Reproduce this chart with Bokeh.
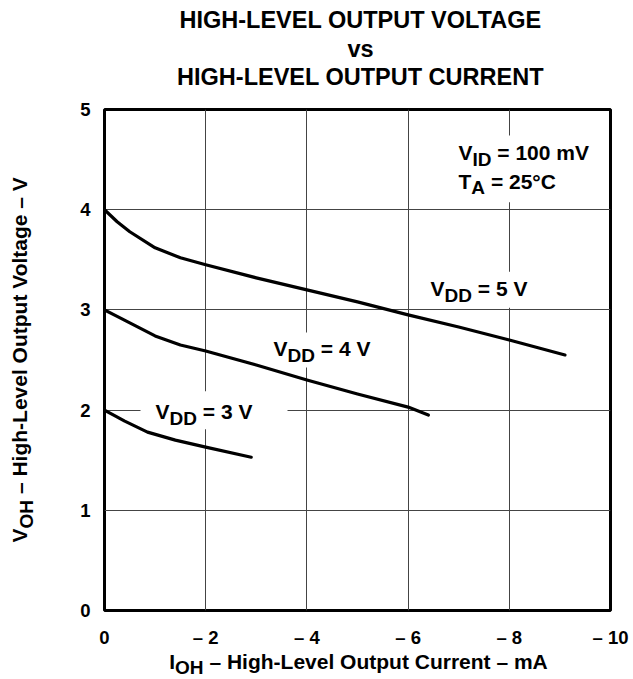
import math
from bokeh.plotting import figure
from bokeh.models import Range1d, FixedTicker, Label
from bokeh.layouts import row, column
from bokeh.core.properties import value
from bokeh.embed import file_html
from bokeh.resources import INLINE

# ---------------- data ----------------
x_ticks = [0, -2, -4, -6, -8, -10]
x_tick_labels = ["0", "– 2", "– 4", "– 6", "– 8", "– 10"]
y_ticks = [0, 1, 2, 3, 4, 5]
y_tick_labels = ["0", "1", "2", "3", "4", "5"]

i_vdd5 = [0, -0.25, -0.5, -1, -1.5, -2, -3, -4, -5, -6, -7, -8, -9.1]
v_vdd5 = [4.0, 3.88, 3.78, 3.62, 3.52, 3.45, 3.32, 3.20, 3.08, 2.95, 2.83, 2.70, 2.55]
i_vdd4 = [0, -0.25, -0.5, -1, -1.5, -2, -3, -4, -5, -6, -6.4]
v_vdd4 = [3.0, 2.935, 2.87, 2.74, 2.65, 2.59, 2.45, 2.30, 2.16, 2.03, 1.95]
i_vdd3 = [0, -0.2, -0.4, -0.85, -1.4, -2, -2.9]
v_vdd3 = [2.0, 1.945, 1.89, 1.78, 1.70, 1.63, 1.53]

title_lines = ["HIGH-LEVEL OUTPUT VOLTAGE", "vs", "HIGH-LEVEL OUTPUT CURRENT"]
x_label = [("I", False), ("OH", True), (" – High-Level Output Current – mA", False)]
y_label = [("V", False), ("OH", True), (" – High-Level Output Voltage – V", False)]

# ---------------- layout (page pixels) ----------------
FONT = "Liberation Sans"
PAGE_W, PAGE_H = 630, 679
LEFT_W = 40          # strip holding the y label
TOP_H = 95           # strip holding the title
BOT_Y = 650          # where the x-label strip starts
FL, FR, FT, FB = 104, 610, 109, 612      # plot frame edges
X0, X1, Y0, Y1 = 0, -10, 0, 5
BL = 0.38            # correction: rendered alphabetic baseline sits this many em lower

def px2x(px):
    return X0 + (px - FL) * (X1 - X0) / (FR - FL)

def px2y(py):
    return Y0 + (FB - py) * (Y1 - Y0) / (FB - FT)

# Arial/Liberation Sans Bold advance widths (per em)
W = {' ': .278, '-': .333, '.': .278, '=': .584, '°': .400, '–': .556,
     'A': .722, 'B': .722, 'C': .722, 'D': .722, 'E': .667, 'F': .611, 'G': .778,
     'H': .722, 'I': .278, 'J': .556, 'K': .722, 'L': .611, 'M': .833, 'N': .722,
     'O': .778, 'P': .667, 'Q': .778, 'R': .722, 'S': .667, 'T': .611, 'U': .722,
     'V': .667, 'W': .944, 'X': .667, 'Y': .667, 'Z': .611,
     'a': .556, 'b': .611, 'c': .556, 'd': .611, 'e': .556, 'f': .333, 'g': .611,
     'h': .611, 'i': .278, 'j': .278, 'k': .556, 'l': .278, 'm': .889, 'n': .611,
     'o': .611, 'p': .611, 'q': .611, 'r': .389, 's': .556, 't': .333, 'u': .611,
     'v': .556, 'w': .778, 'x': .556, 'y': .556, 'z': .500}

def tw(s, size):
    return sum(W.get(c, 0.556) for c in s) * size

def split_parts(parts, size, sub):
    out = []
    off = 0.0
    for t, s in parts:
        fs = sub if s else size
        lead = len(t) - len(t.lstrip(" "))
        off += tw(" " * lead, fs)
        t2 = t.lstrip(" ")
        out.append((t2, fs, s, off))
        off += tw(t2, fs)
    return out, off

def rich_label(p, x, y, parts, size, sub, shift):
    """text with subscripts inside the plot frame (Label annotations)"""
    pieces, _ = split_parts(parts, size, sub)
    for t, fs, s, off in pieces:
        p.add_layout(Label(x=x, y=y, x_offset=off,
                           y_offset=(-shift if s else 0) + BL * fs, text=t,
                           text_font=FONT, text_font_style="bold",
                           text_font_size=f"{fs}px", text_color="black",
                           text_align="left", text_baseline="alphabetic"))

def rich_text(f, x, y, parts, size, sub, shift, vertical=False, center=True):
    """text with subscripts in a helper strip whose data units are page pixels"""
    pieces, total = split_parts(parts, size, sub)
    start = -total / 2 if center else 0.0
    for t, fs, s, off in pieces:
        if vertical:
            xx, yy, ang = x + (shift if s else 0) - BL * fs, y - (start + off), math.pi / 2
        else:
            xx, yy, ang = x + start + off, y + (shift if s else 0) - BL * fs, 0.0
        f.text(x=[xx], y=[yy], text=[t], angle=ang, text_font=value(FONT),
               text_font_style="bold", text_font_size=value(f"{fs}px"),
               text_color="black", text_align="left", text_baseline="alphabetic")

def strip(x0, x1, y0, y1, fx0, fx1):
    """helper figure at page box (x0..x1, y0..y1) whose frame spans page x fx0..fx1"""
    f = figure(width=x1 - x0, height=y1 - y0, output_backend="svg", toolbar_location=None,
               x_range=Range1d(fx0, fx1), y_range=Range1d(y1, y0),
               x_axis_location=None, y_axis_location=None, min_border=0,
               min_border_left=fx0 - x0, min_border_right=x1 - fx1,
               min_border_top=0, min_border_bottom=0)
    f.outline_line_color = None
    f.background_fill_color = "white"
    f.border_fill_color = "white"
    f.xgrid.visible = False
    f.ygrid.visible = False
    return f

# ---------------- main plot ----------------
p = figure(width=PAGE_W - LEFT_W, height=BOT_Y - TOP_H, output_backend="svg",
           toolbar_location=None, x_range=Range1d(X0, X1), y_range=Range1d(Y0, Y1),
           min_border_left=FL - LEFT_W, min_border_right=PAGE_W - FR,
           min_border_top=FT - TOP_H, min_border_bottom=BOT_Y - FB)
p.background_fill_color = "white"
p.border_fill_color = "white"
p.outline_line_color = "black"
p.outline_line_width = 3

p.xaxis.ticker = FixedTicker(ticks=x_ticks)
p.yaxis.ticker = FixedTicker(ticks=y_ticks)
p.xaxis.major_label_overrides = {t: l for t, l in zip(x_ticks, x_tick_labels)}
p.yaxis.major_label_overrides = {t: l for t, l in zip(y_ticks, y_tick_labels)}
for ax in (p.xaxis, p.yaxis):
    ax.axis_line_color = None
    ax.major_tick_line_color = None
    ax.minor_tick_line_color = None
    ax.major_tick_out = 0
    ax.major_tick_in = 0
    ax.minor_tick_out = 0
    ax.minor_tick_in = 0
    ax.major_label_text_font = FONT
    ax.major_label_text_font_style = "bold"
    ax.major_label_text_font_size = "18.5px"
    ax.major_label_text_color = "black"
p.xaxis.major_label_standoff = 16
p.yaxis.major_label_standoff = 14

p.xgrid.ticker = FixedTicker(ticks=x_ticks)
p.ygrid.ticker = FixedTicker(ticks=y_ticks)
p.grid.grid_line_color = "#444444"
p.grid.grid_line_width = 1

# white boxes behind the in-plot labels (grid lines are interrupted there)
boxes = [(140, 287, 392, 430), (262, 385, 333, 368), (418, 540, 272, 308), (448, 600, 135, 202)]
p.quad(left=[px2x(b[0]) for b in boxes], right=[px2x(b[1]) for b in boxes],
       top=[px2y(b[2]) for b in boxes], bottom=[px2y(b[3]) for b in boxes],
       fill_color="white", line_color=None)

for xs, ys in ((i_vdd5, v_vdd5), (i_vdd4, v_vdd4), (i_vdd3, v_vdd3)):
    p.line(xs, ys, line_color="black", line_width=3.2, line_join="round", line_cap="round")

rich_label(p, px2x(430), px2y(297), [("V", False), ("DD", True), (" = 5 V", False)], 21, 19, 6)
rich_label(p, px2x(273), px2y(357), [("V", False), ("DD", True), (" = 4 V", False)], 21, 19, 6)
rich_label(p, px2x(155), px2y(420), [("V", False), ("DD", True), (" = 3 V", False)], 21, 19, 6)
rich_label(p, px2x(458), px2y(160), [("V", False), ("ID", True), (" = 100 mV", False)], 21, 19, 6)
rich_label(p, px2x(458), px2y(189), [("T", False), ("A", True), (" = 25°C", False)], 21, 19, 6)

# ---------------- title strip ----------------
top = strip(LEFT_W, PAGE_W, 0, TOP_H, FL, FR)
top.text(x=[360] * 3, y=[b - BL * 23.5 for b in (28, 57, 85)], text=title_lines,
         text_font=value(FONT), text_font_style="bold", text_font_size=value("23.5px"),
         text_color="black", text_align="center", text_baseline="alphabetic")

# ---------------- x-label strip ----------------
bot = strip(LEFT_W, PAGE_W, BOT_Y, PAGE_H, FL, FR)
rich_text(bot, 358, 669, x_label, 21, 19, 5.5)

# ---------------- y-label strip ----------------
left = strip(0, LEFT_W, 0, PAGE_H, 0, LEFT_W)
rich_text(left, 27, 358.5, y_label, 21, 19, 6, vertical=True)

layout = row(left, column(top, p, bot, spacing=0), spacing=0)
open("out.html", "w").write(file_html(layout, INLINE))
